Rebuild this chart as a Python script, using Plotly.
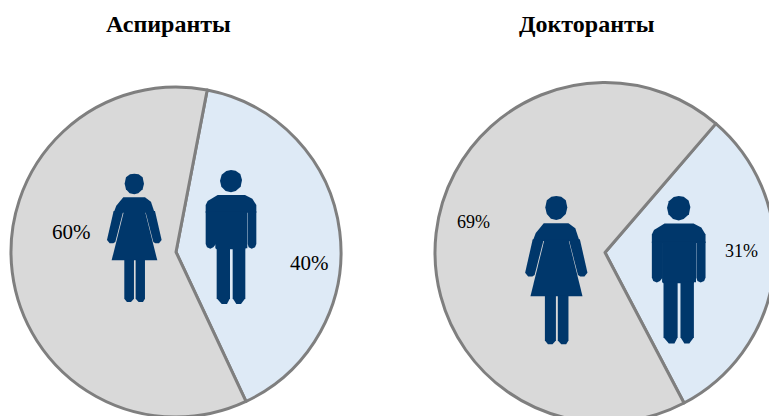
import plotly.graph_objects as go

# Data
pie_titles = ["Аспиранты", "Докторанты"]
genders = ["Мужчины", "Женщины"]
aspirants = [40, 60]
doctorants = [31, 69]

# Canvas is larger than the window so that the pies can run off the edge, as in the reference
W, H = 800, 450
GREY, BLUE, EDGE, NAVY = "#D9D9D9", "#DEEAF6", "#7F7F7F", "#00376B"


def dom(x0, x1, y0, y1):
    return dict(x=[x0 / W, x1 / W], y=[1 - y1 / H, 1 - y0 / H])


def pie(vals, rotation, domain):
    return go.Pie(labels=genders, values=vals, sort=False, direction="clockwise",
                  rotation=rotation, domain=domain, textinfo="none", hoverinfo="label+percent",
                  showlegend=False,
                  marker=dict(colors=[BLUE, GREY], line=dict(color=EDGE, width=3)))


fig = go.Figure()
fig.add_trace(pie(aspirants, 10.9, dom(11, 341, 87, 417)))
fig.add_trace(pie(doctorants, 40.7, dom(435, 775, 82.5, 422.5)))

# Pictograms, outlined in local units around the centre line and from the top of the head
HEAD_M = [(0, 0), (14, 2), (28, 12), (33, 30), (29, 50), (14, 63), (0, 67), (-16, 63), (-29, 50), (-33, 32), (-28, 14), (-14, 3)]
MAN = [
    [(-76, 128), (-76, 105), (-70, 93), (-40, 75), (42, 75), (64, 86), (76, 105), (76, 128)],
    [(-76, 124), (-45, 124), (-45, 222), (-53, 232), (-62, 236), (-72, 232), (-76, 222)],
    [(50, 124), (76, 124), (76, 222), (72, 232), (62, 236), (53, 232), (50, 222)],
    [(-47, 124), (49, 124), (49, 235), (43, 235), (43, 238), (-43, 238), (-47, 235)],
    [(-43, 234), (-3, 234), (-3, 385), (-12, 402), (-28, 402), (-43, 385)],
    [(5, 234), (43, 234), (43, 385), (30, 402), (16, 402), (5, 385)],
]
HEAD_W = [(0, 0), (13, 2), (25, 11), (29, 30), (25, 47), (12, 59), (0, 62), (-14, 59), (-25, 47), (-29, 30), (-25, 11), (-13, 2)]
WOMAN = [
    [(-62, 117), (-54, 96), (-33, 71), (32, 71), (50, 84), (61, 117)],
    [(-62, 112), (-33, 112), (-57, 205), (-63, 209), (-74, 209), (-82, 199)],
    [(62, 112), (33, 112), (57, 205), (63, 209), (74, 209), (82, 199)],
    [(-31, 112), (32, 112), (69, 260), (-68, 260)],
    [(-30, 258), (-1, 258), (-1, 375), (-10, 385), (-22, 385), (-30, 375)],
    [(4, 258), (32, 258), (32, 375), (26, 385), (13, 385), (4, 375)],
]
ICONS = [
    (WOMAN, HEAD_W, 134.3, 173.7, 1 / 3, 1 / 3),
    (MAN, HEAD_M, 231.0, 170.0, 1 / 3, 1 / 3),
    (WOMAN, HEAD_W, 556.3, 196.0, 1.14 / 3, 1.156 / 3),
    (MAN, HEAD_M, 678.7, 196.0, 1.06 / 3, 1.10 / 3),
]
for parts, head, cx, top, sx, sy in ICONS:
    for poly in parts + [head]:
        pts = [f"{cx + x * sx:.2f},{top + y * sy:.2f}" for x, y in poly]
        fig.add_shape(type="path", xref="x", yref="y", layer="above",
                      path="M" + " L".join(pts) + " Z",
                      fillcolor=NAVY, line=dict(width=0))


def note(text, x, y, size, bold=False):
    fig.add_annotation(x=x, y=y, xref="x", yref="y", showarrow=False,
                       text=f"<b>{text}</b>" if bold else text,
                       font=dict(family="Liberation Serif", size=size, color="#000000"))


note(pie_titles[0], 168, 24, 24, True)
note(pie_titles[1], 587, 24, 24, True)
note(f"{aspirants[1]}%", 71, 232, 21)
note(f"{aspirants[0]}%", 309, 263, 21)
note(f"{doctorants[1]}%", 473, 222, 18)
note(f"{doctorants[0]}%", 741, 251, 18)

fig.update_xaxes(range=[0, W], visible=False, fixedrange=True)
fig.update_yaxes(range=[H, 0], visible=False, fixedrange=True)
fig.update_layout(width=W, height=H, margin=dict(l=0, r=0, t=0, b=0),
                  paper_bgcolor="white", plot_bgcolor="rgba(0,0,0,0)", showlegend=False)

fig.write_html("out.html", config={"displayModeBar": False},
               post_script="document.body.style.margin='0';document.body.style.overflow='hidden';"
                           "document.documentElement.style.overflow='hidden';")
